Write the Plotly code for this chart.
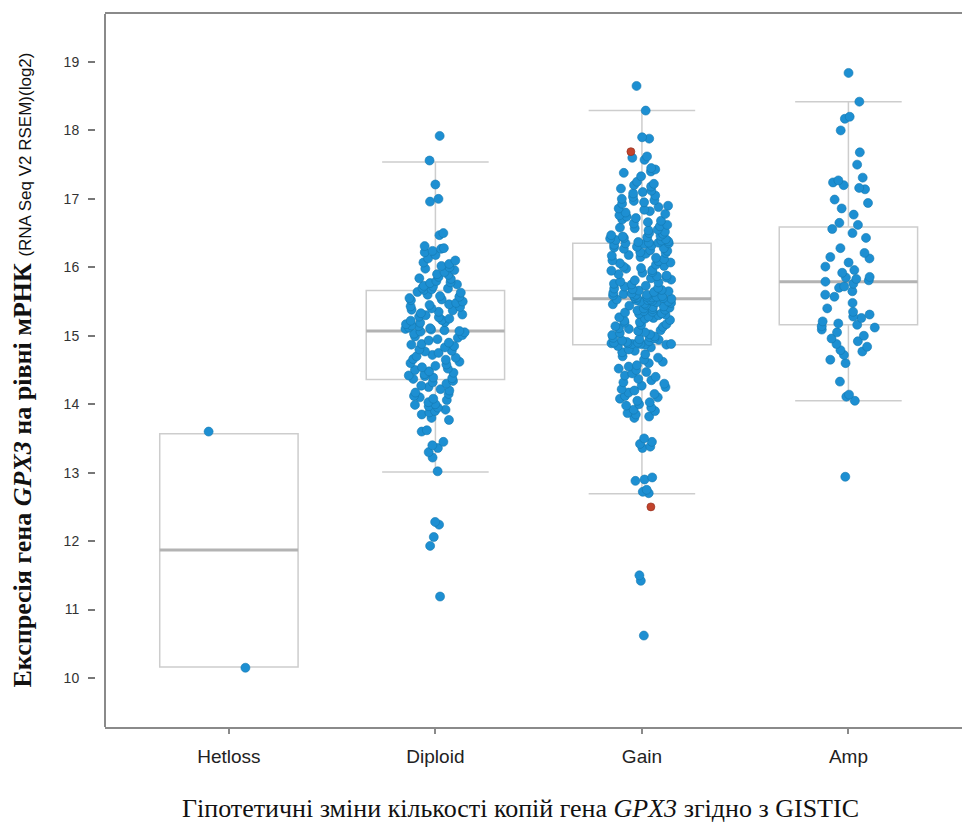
import plotly.graph_objects as go

# ---------------- data ----------------
categories = ["Hetloss", "Diploid", "Gain", "Amp"]

# box statistics
q1 = [10.16, 14.36, 14.87, 15.16]
medians = [11.87, 15.07, 15.54, 15.79]
q3 = [13.57, 15.66, 16.35, 16.59]
lower_whisker = [10.16, 13.01, 12.69, 14.05]
upper_whisker = [13.57, 17.54, 18.29, 18.42]

hetloss_vals = [13.6, 10.15]

diploid_vals = [
    17.92, 17.56, 17.21, 17.0, 16.96, 16.5, 16.47, 16.31, 16.28, 16.27, 16.24, 16.22, 16.18,
    16.13, 16.1, 16.07, 16.05, 16.02, 16.0, 15.98, 15.96, 15.93, 15.9, 15.89, 15.86, 15.84,
    15.83, 15.8, 15.78, 15.77, 15.75, 15.73, 15.72, 15.7, 15.69, 15.68, 15.67,
    15.64, 15.63, 15.6, 15.58, 15.57, 15.55, 15.53, 15.52, 15.5, 15.48, 15.46, 15.45, 15.43,
    15.42, 15.4, 15.38, 15.37, 15.35, 15.33, 15.31, 15.3, 15.28, 15.27, 15.25, 15.23, 15.22,
    15.2, 15.19, 15.17, 15.15, 15.14, 15.12, 15.11, 15.1, 15.09, 15.08, 15.07,
    15.06, 15.05, 15.03, 15.01, 14.99, 14.97, 14.95, 14.93, 14.9, 14.88, 14.87, 14.85, 14.83,
    14.8, 14.78, 14.77, 14.75, 14.72, 14.7, 14.68, 14.66, 14.65, 14.62, 14.6, 14.58, 14.56,
    14.54, 14.52, 14.5, 14.48, 14.46, 14.44, 14.42, 14.41, 14.39, 14.38, 14.37,
    14.34, 14.32, 14.3, 14.27, 14.25, 14.22, 14.2, 14.17, 14.15, 14.12, 14.1, 14.08, 14.06,
    14.03, 14.0, 13.99, 13.97, 13.95, 13.92, 13.9, 13.88, 13.85, 13.8, 13.77, 13.62, 13.6,
    13.45, 13.4, 13.36, 13.3, 13.22, 13.02, 12.28, 12.24, 12.06, 11.93, 11.19,
]

gain_vals = [
    18.65, 18.29, 17.9, 17.88, 17.62, 17.6, 17.57, 17.45, 17.43, 17.4, 17.38, 17.33, 17.25,
    17.22, 17.2, 17.18, 17.15, 17.12, 17.1, 17.08, 17.05, 17.03, 17.0, 16.98, 16.97, 16.95,
    16.93, 16.9, 16.88, 16.86, 16.84, 16.82, 16.8, 16.78, 16.76, 16.74, 16.72, 16.7, 16.68,
    16.66, 16.64, 16.62, 16.6, 16.58, 16.57, 16.55, 16.54, 16.52, 16.5, 16.49, 16.47, 16.46,
    16.45, 16.44, 16.43, 16.42, 16.41, 16.4, 16.39, 16.38, 16.37, 16.36, 16.36, 16.35, 16.35,
    16.34, 16.33, 16.32, 16.3, 16.29, 16.28, 16.27, 16.25, 16.24, 16.22, 16.21, 16.2, 16.18,
    16.17, 16.15, 16.14, 16.12, 16.1, 16.09, 16.07, 16.06, 16.04, 16.02, 16.01, 15.99, 15.98,
    15.96, 15.95, 15.93, 15.92, 15.9, 15.88, 15.87, 15.85, 15.84, 15.82, 15.81, 15.79, 15.78,
    15.76, 15.75, 15.73, 15.72, 15.7, 15.69, 15.68, 15.67, 15.66, 15.65, 15.64, 15.63, 15.62,
    15.61, 15.6, 15.6, 15.59, 15.58, 15.58, 15.57, 15.57, 15.56, 15.56, 15.55, 15.55, 15.54,
    15.53, 15.53, 15.52, 15.52, 15.51, 15.5, 15.5, 15.49, 15.48, 15.47, 15.46, 15.45, 15.44,
    15.43, 15.42, 15.41, 15.4, 15.39, 15.38, 15.37, 15.36, 15.35, 15.34, 15.33, 15.32, 15.31,
    15.3, 15.28, 15.27, 15.26, 15.25, 15.23, 15.22, 15.2, 15.19, 15.17, 15.16, 15.14, 15.13,
    15.11, 15.1, 15.08, 15.07, 15.05, 15.04, 15.02, 15.01, 14.99, 14.98, 14.97, 14.96, 14.95,
    14.94, 14.93, 14.92, 14.91, 14.9, 14.9, 14.89, 14.89, 14.88, 14.88, 14.88, 14.87, 14.87,
    14.85, 14.83, 14.8, 14.78, 14.76, 14.73, 14.7, 14.68, 14.65, 14.62, 14.6, 14.57, 14.55,
    14.52, 14.5, 14.47, 14.45, 14.42, 14.4, 14.37, 14.35, 14.32, 14.3, 14.27, 14.25, 14.22,
    14.2, 14.17, 14.15, 14.12, 14.1, 14.08, 14.05, 14.03, 14.0, 13.98, 13.95, 13.92, 13.9,
    13.87, 13.85, 13.82, 13.8, 13.5, 13.45, 13.42, 13.38, 13.36, 12.93, 12.9, 12.88, 12.75,
    12.72, 12.7, 11.5, 11.42, 10.62,
]

amp_vals = [
    18.84, 18.42, 18.2, 18.17, 18.0, 17.68, 17.5, 17.31, 17.27, 17.24, 17.2, 17.16, 17.14,
    16.99, 16.94, 16.86, 16.77, 16.65, 16.62, 16.56, 16.5, 16.43, 16.28, 16.21, 16.15, 16.13,
    16.07, 16.01, 15.96, 15.92, 15.86, 15.85, 15.83, 15.81, 15.79, 15.76, 15.72, 15.7, 15.65,
    15.6, 15.57, 15.48, 15.4, 15.35, 15.31, 15.28, 15.26, 15.21, 15.18, 15.16, 15.14, 15.12,
    15.09, 15.05, 15.0, 14.96, 14.92, 14.88, 14.84, 14.79, 14.77, 14.72, 14.65, 14.6, 14.33,
    14.14, 14.11, 14.05, 12.94,
]

# highlighted (red) samples in the Gain group
gain_red_vals = [17.69, 12.5]

y_ticks = [10, 11, 12, 13, 14, 15, 16, 17, 18, 19]

# ---------------- figure ----------------
BOX_W = 0.67
fig = go.Figure()

# box outlines
fig.add_trace(go.Box(
    x=categories, q1=q1, median=medians, q3=q3,
    lowerfence=lower_whisker, upperfence=upper_whisker,
    width=BOX_W, whiskerwidth=0.77, boxpoints=False,
    line=dict(color="#cdcdcd", width=1.5),
    fillcolor="rgba(255,255,255,0)", showlegend=False, hoverinfo="skip",
))
# thicker medians
fig.add_trace(go.Box(
    x=categories, q1=medians, median=medians, q3=medians,
    lowerfence=medians, upperfence=medians,
    width=BOX_W, whiskerwidth=0, boxpoints=False,
    line=dict(color="#b3b3b3", width=3),
    fillcolor="rgba(255,255,255,0)", showlegend=False, hoverinfo="skip",
))

pts_x = (["Hetloss"] * len(hetloss_vals) + ["Diploid"] * len(diploid_vals)
         + ["Gain"] * len(gain_vals) + ["Amp"] * len(amp_vals))
pts_y = hetloss_vals + diploid_vals + gain_vals + amp_vals

invisible = dict(color="rgba(0,0,0,0)", width=0)
fig.add_trace(go.Box(
    x=pts_x, y=pts_y, width=BOX_W,
    boxpoints="all", jitter=0.46, pointpos=0,
    marker=dict(color="#1d8fd2", size=9, line=dict(color="#1479b0", width=0.6)),
    line=invisible, fillcolor="rgba(0,0,0,0)", showlegend=False,
))
fig.add_trace(go.Box(
    x=["Gain"] * len(gain_red_vals), y=gain_red_vals, width=BOX_W,
    boxpoints="all", jitter=0.25, pointpos=0,
    marker=dict(color="#c2432c", size=8, line=dict(color="#8f2b1b", width=0.6)),
    line=invisible, fillcolor="rgba(0,0,0,0)", showlegend=False,
))

ML = 60
PAPER_W = 962 - ML
PLOT_LEFT = 105
x_dom0 = (PLOT_LEFT - ML) / PAPER_W

fig.update_layout(
    width=962, height=827,
    margin=dict(l=ML, r=0, t=14, b=100),
    paper_bgcolor="white", plot_bgcolor="white",
    boxmode="overlay",
    font=dict(family="Liberation Sans, Arial, sans-serif", color="#333"),
    xaxis=dict(
        type="category", domain=[x_dom0, 1], range=[-0.6, 3.55],
        showline=True, mirror=True, linecolor="#8a8a8a", linewidth=2,
        ticks="outside", ticklen=5, tickcolor="#8a8a8a", tickwidth=1.5,
        showgrid=False, zeroline=False,
        tickfont=dict(size=19, color="#222"), ticklabelstandoff=6,
    ),
    yaxis=dict(
        anchor="free", position=(95 - ML) / PAPER_W,
        range=[9.284, 19.701], tickvals=y_ticks,
        showline=False, showgrid=False, zeroline=False,
        ticks="outside", ticklen=7, tickcolor="#777", tickwidth=1.5,
        tickfont=dict(size=14, color="#333"), ticklabelstandoff=6,
    ),
    shapes=[dict(type="line", xref="paper", yref="paper",
                 x0=x_dom0, x1=x_dom0, y0=0, y1=1,
                 line=dict(color="#8a8a8a", width=2))],
    annotations=[
        dict(
            text=("<b>Експресія гена <i>GPX3</i> на рівні мРНК</b> "
                  "<span style='font-family:Liberation Sans, Arial, sans-serif;font-size:17px'>"
                  "(RNA Seq V2 RSEM)(log2)</span>"),
            xref="paper", yref="paper", x=(22 - ML) / PAPER_W, y=0.5,
            textangle=-90, showarrow=False, xanchor="center", yanchor="middle",
            font=dict(family="Liberation Serif, Times New Roman, serif", size=26, color="#111"),
        ),
        dict(
            text="Гіпотетичні зміни кількості копій гена <i>GPX3</i> згідно з GISTIC",
            xref="paper", yref="paper", x=(520 - ML) / PAPER_W, y=(727 - 808) / 713,
            showarrow=False, xanchor="center", yanchor="middle",
            font=dict(family="Liberation Serif, Times New Roman, serif", size=26, color="#111"),
        ),
    ],
)

fig.write_html(
    "out.html",
    config={"responsive": False, "displayModeBar": False},
    post_script="document.body.style.margin='0';document.body.style.overflow='hidden';",
)
